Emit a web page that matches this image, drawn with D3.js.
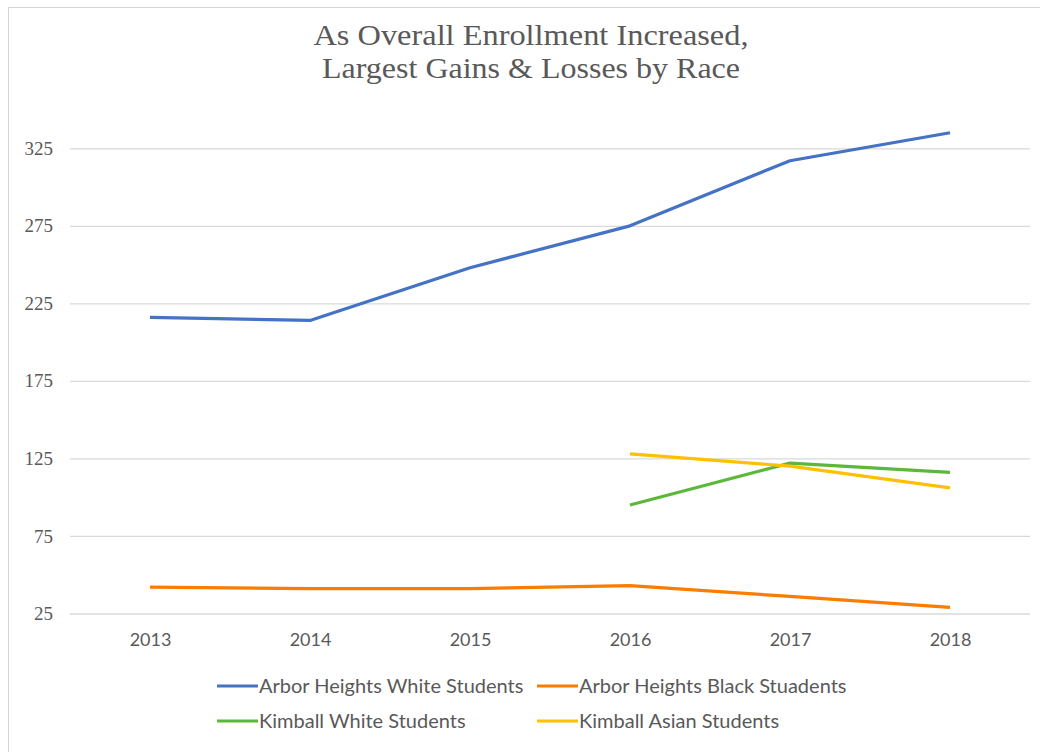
<!DOCTYPE html>
<html>
<head>
<meta charset="utf-8">
<script src="https://cdn.jsdelivr.net/npm/d3@7"></script>
<style>
  html, body { margin: 0; padding: 0; background: #ffffff; }
  svg { display: block; }
</style>
</head>
<body>
<svg id="chart" width="1040" height="752"></svg>
<script>
// ---- Data ----
const years = ["2013", "2014", "2015", "2016", "2017", "2018"];
const arborWhite = [216, 214, 248, 275, 317, 335];
const arborBlack = [42, 41, 41, 43, 36, 29];
const kimballWhite = [null, null, null, 95, 122, 116];
const kimballAsian = [null, null, null, 128, 120, 106];
const yTicks = [25, 75, 125, 175, 225, 275, 325];
const seriesNames = [
  "Arbor Heights White Students",
  "Arbor Heights Black Stuadents",
  "Kimball White Students",
  "Kimball Asian Students"
];
const titleLines = ["As Overall Enrollment Increased,", "Largest Gains & Losses by Race"];

// ---- Styles ----
const colors = ["#4472C4", "#FA7D00", "#5CB83A", "#FFC000"];
const textColor = "#595959";
const gridColor = "#d9d9d9";

const series = [arborWhite, arborBlack, kimballWhite, kimballAsian].map((vals, i) => ({
  name: seriesNames[i],
  color: colors[i],
  values: vals.map((v, j) => ({ year: years[j], value: v }))
}));

const svg = d3.select("#chart");

// frame
svg.append("rect")
  .attr("x", 8.5).attr("y", 7.5)
  .attr("width", 1060).attr("height", 780)
  .attr("fill", "#ffffff")
  .attr("stroke", "#d4d4d4").attr("stroke-width", 1);

const plotLeft = 70, plotRight = 1030, plotTop = 148.3, plotBottom = 613.5;

const x = d3.scalePoint().domain(years).range([plotLeft, plotRight]).padding(0.5);
const y = d3.scaleLinear().domain([25, 325]).range([plotBottom, plotTop]);

// title
titleLines.forEach((t, i) => {
  svg.append("text")
    .attr("x", 531)
    .attr("y", 45 + i * 33)
    .attr("text-anchor", "middle")
    .attr("font-family", "'Liberation Serif', 'Times New Roman', serif")
    .attr("font-size", 30)
    .attr("fill", textColor)
    .attr("textLength", i === 0 ? 435 : 418)
    .attr("lengthAdjust", "spacingAndGlyphs")
    .text(t);
});

// y axis + gridlines
const yAxis = svg.append("g")
  .attr("transform", `translate(${plotLeft},0)`)
  .call(d3.axisLeft(y).tickValues(yTicks).tickSize(-(plotRight - plotLeft)).tickPadding(17));
yAxis.select(".domain").remove();
yAxis.selectAll(".tick line").attr("stroke", gridColor).attr("stroke-width", 1.3);
yAxis.selectAll(".tick text")
  .attr("font-family", "'Liberation Serif', 'Times New Roman', serif")
  .attr("font-size", 19)
  .attr("fill", textColor);

// x axis
const xAxis = svg.append("g")
  .attr("transform", `translate(0,${plotBottom})`)
  .call(d3.axisBottom(x).tickSize(0).tickPadding(20));
xAxis.select(".domain").remove();
xAxis.selectAll(".tick text")
  .attr("font-family", "Lato, 'Open Sans', sans-serif")
  .attr("font-size", 18)
  .attr("fill", textColor);

// lines
const line = d3.line()
  .defined(d => d.value !== null)
  .x(d => x(d.year))
  .y(d => y(d.value));

svg.append("g").selectAll("path")
  .data(series)
  .join("path")
  .attr("d", d => line(d.values))
  .attr("fill", "none")
  .attr("stroke", d => d.color)
  .attr("stroke-width", 3.2)
  .attr("stroke-linejoin", "round")
  .attr("stroke-linecap", "butt");

// legend
const legendCols = [217, 537];
const legendRows = [686, 721];
const legend = svg.append("g").selectAll("g")
  .data(series)
  .join("g")
  .attr("transform", (d, i) => `translate(${legendCols[i % 2]},${legendRows[Math.floor(i / 2)]})`);
legend.append("line")
  .attr("x1", 0).attr("x2", 41)
  .attr("y1", 0).attr("y2", 0)
  .attr("stroke", d => d.color)
  .attr("stroke-width", 3.2);
legend.append("text")
  .attr("x", 42).attr("y", 0)
  .attr("dy", "0.35em")
  .attr("font-family", "Lato, 'Open Sans', sans-serif")
  .attr("font-size", 20)
  .attr("fill", textColor)
  .text(d => d.name);
</script>
</body>
</html>
